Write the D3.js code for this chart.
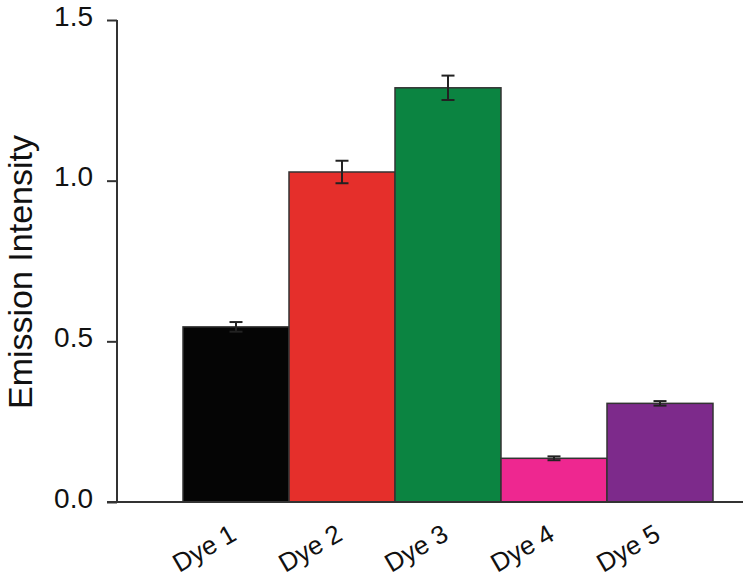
<!DOCTYPE html>
<html>
<head>
<meta charset="utf-8">
<script src="https://cdn.jsdelivr.net/npm/d3@7"></script>
<style>
  body { margin: 0; background: #fff; }
  svg { display: block; font-family: Arial, "Liberation Sans", sans-serif; }
</style>
</head>
<body>
<div id="svgWrap"></div>
<script>
// 数据
const dyes = ['Dye 1', 'Dye 2', 'Dye 3', 'Dye 4', 'Dye 5']
const intensity = [0.545, 1.027, 1.289, 0.136, 0.307]
const errors = [0.015, 0.035, 0.038, 0.006, 0.007]
const colors = ['#050505', '#e52f2b', '#0b8441', '#ee2790', '#7d2a8b']
const yTicks = [0, 0.5, 1.0, 1.5]

const WIDTH = 750
const HEIGHT = 581

const svg = d3.select('#svgWrap')
  .append('svg')
  .attr('width', WIDTH)
  .attr('height', HEIGHT)

const x = d3.scaleBand().domain(dyes).range([183, 713]).padding(0)
const y = d3.scaleLinear().domain([0, 1.5]).range([502, 20])

// y轴
const yAxis = svg.append('g')
  .attr('transform', 'translate(117,0)')
  .call(d3.axisLeft(y).tickValues(yTicks).tickFormat(d3.format('.1f')).tickSize(10).tickPadding(14))
yAxis.select('.domain').remove()
yAxis.selectAll('.tick line').attr('stroke', '#333').attr('stroke-width', 2)
yAxis.selectAll('.tick text')
  .attr('font-size', 28)
  .attr('fill', '#111')
  .attr('dy', '0.18em')
yAxis.append('line')
  .attr('x1', 0).attr('x2', 0)
  .attr('y1', y(1.5)).attr('y2', y(0))
  .attr('stroke', '#333').attr('stroke-width', 2)

// 柱子
const data = dyes.map((d, i) => ({ name: d, v: intensity[i], e: errors[i], c: colors[i] }))

svg.selectAll('rect.bar').data(data).enter()
  .append('rect')
  .attr('class', 'bar')
  .attr('x', d => x(d.name))
  .attr('y', d => y(d.v))
  .attr('width', x.bandwidth())
  .attr('height', d => y(0) - y(d.v))
  .attr('fill', d => d.c)
  .attr('stroke', '#333')
  .attr('stroke-width', 1.5)

// 误差线
const err = svg.selectAll('g.err').data(data).enter()
  .append('g')
  .attr('class', 'err')
  .attr('stroke', '#222')
  .attr('stroke-width', 2)
err.append('line')
  .attr('x1', d => x(d.name) + x.bandwidth() / 2)
  .attr('x2', d => x(d.name) + x.bandwidth() / 2)
  .attr('y1', d => y(d.v + d.e))
  .attr('y2', d => y(d.v - d.e))
err.selectAll('line.cap')
  .data(d => [d.v + d.e, d.v - d.e].map(v => ({ cx: x(d.name) + x.bandwidth() / 2, v: v })))
  .enter()
  .append('line')
  .attr('class', 'cap')
  .attr('x1', d => d.cx - 6.5)
  .attr('x2', d => d.cx + 6.5)
  .attr('y1', d => y(d.v))
  .attr('y2', d => y(d.v))

// x轴
svg.append('line')
  .attr('x1', 107).attr('x2', 743)
  .attr('y1', y(0)).attr('y2', y(0))
  .attr('stroke', '#333').attr('stroke-width', 2)

svg.selectAll('text.xlab').data(dyes).enter()
  .append('text')
  .attr('class', 'xlab')
  .attr('transform', d => 'translate(' + (x(d) + x.bandwidth() / 2 + 2) + ',' + (y(0) + 37) + ') rotate(-30)')
  .attr('text-anchor', 'end')
  .attr('font-size', 26)
  .attr('fill', '#111')
  .text(d => d)

// y轴标题
svg.append('text')
  .attr('transform', 'translate(32,272) rotate(-90)')
  .attr('text-anchor', 'middle')
  .attr('font-size', 34)
  .attr('fill', '#111')
  .text('Emission Intensity')
</script>
</body>
</html>
